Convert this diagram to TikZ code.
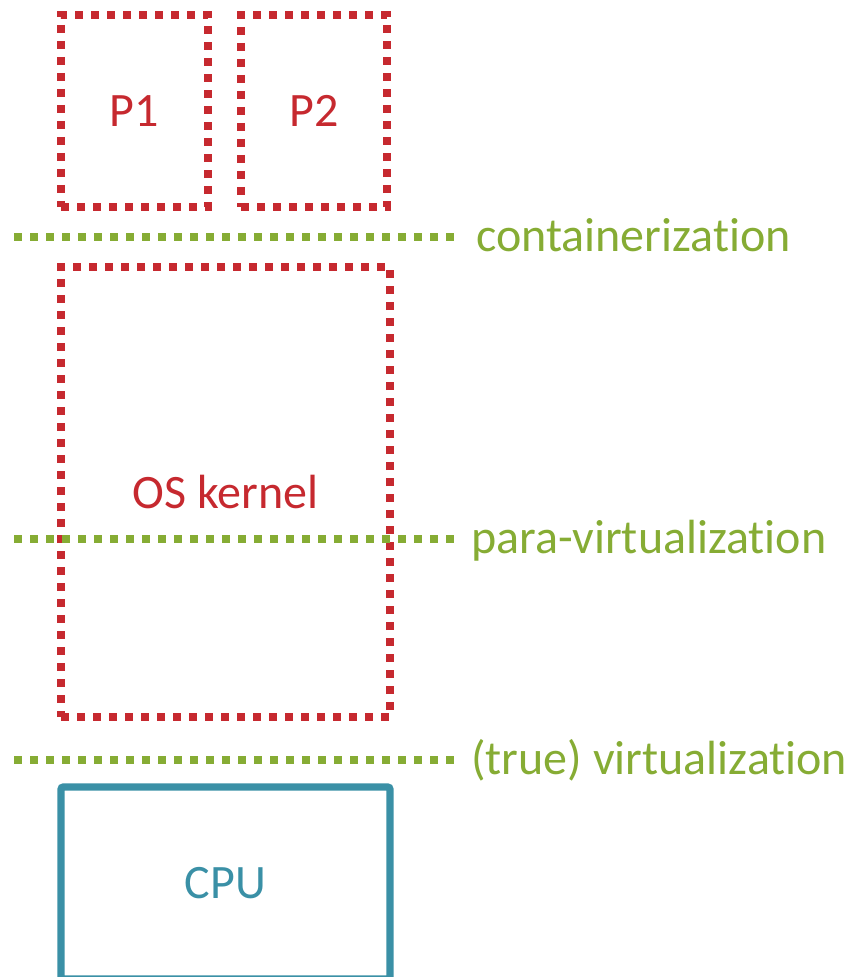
\documentclass[tikz,border=0pt]{standalone}
\usepackage{fontspec}
\setmainfont[Ligatures=NoCommon]{Carlito}
\definecolor{kred}{RGB}{198,41,47}
\definecolor{lgreen}{RGB}{134,172,52}
\definecolor{cputeal}{RGB}{58,144,166}
% keep "t" and "i" as separate glyphs
\newcommand{\tiSep}{t\kern0pt i}
\begin{document}
\begin{tikzpicture}[x=0.75pt,y=-0.75pt,
  txt/.style={font=\fontsize{36pt}{42pt}\selectfont},
  dotbox/.style={draw=kred, line width=5.6pt, dash pattern=on 6.2pt off 5.8pt,
    text=kred, txt, inner sep=0pt, rectangle},
  level/.style={draw=lgreen, line width=5.3pt, dash pattern=on 6.2pt off 5.8pt},
  levellabel/.style={text=lgreen, txt, anchor=base west, inner sep=0pt},
  hwbox/.style={draw=cputeal, line width=5.6pt, rounded corners=2pt,
    text=cputeal, txt, inner sep=0pt, rectangle}]
  \useasboundingbox (0,0) rectangle (852,977);

  % processes
  \node[dotbox, minimum width=110.25pt, minimum height=144pt] (p1) at (134.5,111) {P1};
  \node[dotbox, minimum width=109.5pt, minimum height=144pt] (p2) at (314,111) {P2};

  % kernel
  \node[dotbox, minimum width=246.75pt, minimum height=337.5pt] (kernel) at (225.5,492) {OS kernel};

  % hardware
  \node[hwbox, minimum width=246.75pt, minimum height=144pt] (cpu) at (225.5,883) {CPU};

  % isolation levels
  \coordinate (c1) at (14,237);  \coordinate (c2) at (454,237);
  \coordinate (v1) at (14,539);  \coordinate (v2) at (454,539);
  \coordinate (t1) at (14,760);  \coordinate (t2) at (454,760);
  \draw[level] (c1) -- (c2);
  \draw[level] (v1) -- (v2);
  \draw[level] (t1) -- (t2);

  \node[levellabel] (lcont) at (476,251) {containeriza\tiSep on};
  \node[levellabel] (lpara) at (471,553) {para-vir\kern0pt tualiza\tiSep on};
  \node[levellabel] (ltrue) at (471,774) {(true) vir\kern0pt tualiza\tiSep on};
\end{tikzpicture}
\end{document}
